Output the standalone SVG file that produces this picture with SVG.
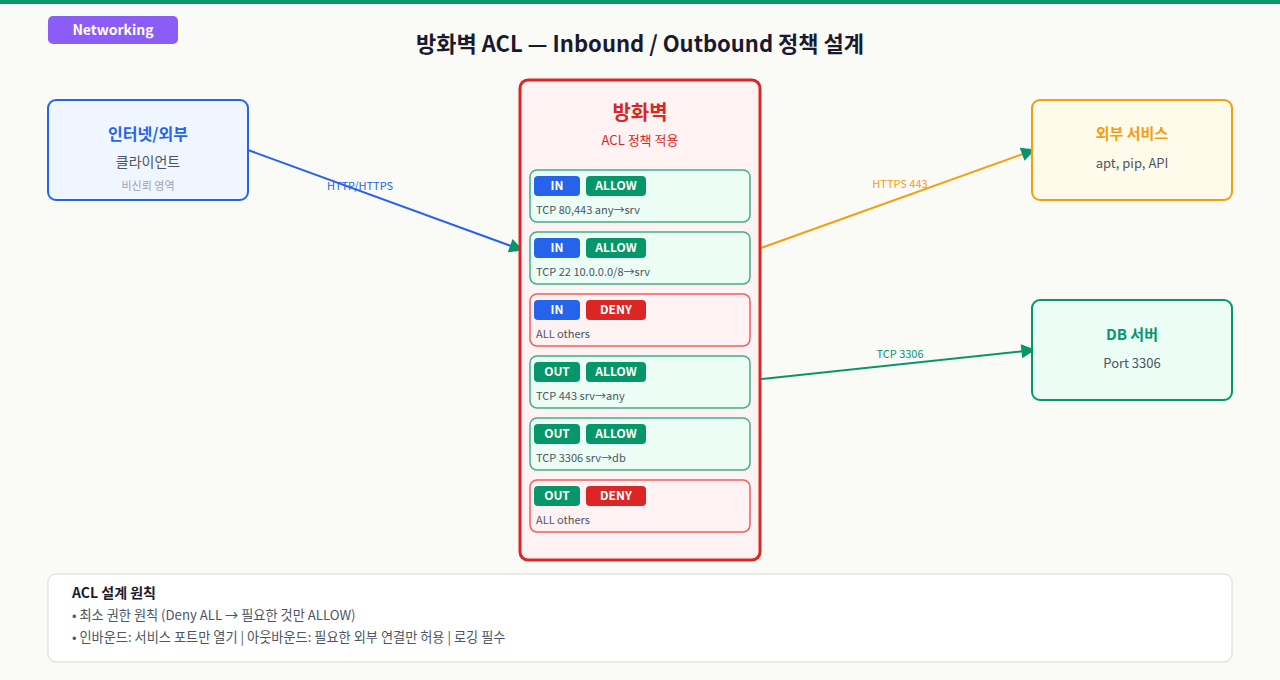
<svg xmlns="http://www.w3.org/2000/svg" width="1280" height="680" viewBox="0 0 1280 680">
<defs>
<style>
text{font-family:"Noto Sans CJK KR","Noto Sans",sans-serif}
.t{font-weight:700;text-anchor:middle}
.c{text-anchor:middle}
.pill{font-size:12px;font-weight:700;fill:#fff;text-anchor:middle}
.rtxt{font-size:11px;fill:#4b5563}
.allow{fill:#ecfdf5;stroke:#059669;stroke-opacity:0.75;stroke-width:1.5}
.deny{fill:#fef2f2;stroke:#ef4444;stroke-opacity:0.85;stroke-width:1.5}
.lbl{font-size:11px;text-anchor:middle}
</style>
<marker id="ah2" viewBox="0 0 10 10" refX="9" refY="5" markerWidth="20" markerHeight="14" markerUnits="userSpaceOnUse" orient="auto"><path d="M0,0 L10,5 L0,10 z" fill="#059669"/></marker>
</defs>
<rect width="1280" height="680" fill="#fafaf7"/>
<rect width="1280" height="4" fill="#059669"/>
<g id="badge">
<rect x="48" y="16" width="130" height="28" rx="5" fill="#8b5cf6"/>
<text x="113" y="35" class="c" font-size="14" font-weight="600" fill="#fff">Networking</text>
</g>
<text id="title" x="640" y="52" class="t" font-size="22" fill="#1a1a2e">방화벽 ACL — Inbound / Outbound 정책 설계</text>
<g id="connectors" fill="none" stroke-width="2">
<line x1="248" y1="150" x2="522" y2="250" stroke="#2563eb" marker-end="url(#ah2)"/>
<line x1="761" y1="248" x2="1034" y2="150" stroke="#f59e0b" marker-end="url(#ah2)"/>
<line x1="761" y1="379" x2="1034" y2="350" stroke="#059669" marker-end="url(#ah2)"/>
<text x="360" y="190" class="lbl" fill="#2563eb" stroke="none">HTTP/HTTPS</text>
<text x="900" y="188" class="lbl" fill="#f59e0b" stroke="none">HTTPS 443</text>
<text x="900" y="358" class="lbl" fill="#059669" stroke="none">TCP 3306</text>
</g>
<g id="internet">
<rect x="48" y="100" width="200" height="100" rx="8" fill="#eff6ff" stroke="#2563eb" stroke-width="2"/>
<text x="148" y="140" class="t" font-size="16" fill="#2563eb">인터넷/외부</text>
<text x="148" y="167" class="c" font-size="14" fill="#4b5563">클라이언트</text>
<text x="148" y="190" class="c" font-size="11" fill="#9ca3af">비신뢰 영역</text>
</g>
<g id="firewall">
<rect x="520" y="80" width="240" height="480" rx="8" fill="#fef2f2" stroke="#dc2626" stroke-width="3"/>
<text x="640" y="120" class="t" font-size="20" fill="#dc2626">방화벽</text>
<text x="640" y="145" class="c" font-size="13" fill="#dc2626">ACL 정책 적용</text>
</g>
<g id="rule1">
<rect x="530" y="170" width="220" height="52" rx="7" class="allow"/>
<rect x="534" y="176" width="46" height="20" rx="4" fill="#2563eb"/><text x="557" y="190" class="pill">IN</text>
<rect x="586" y="176" width="60" height="20" rx="4" fill="#059669"/><text x="616" y="190" class="pill">ALLOW</text>
<text x="536" y="214" class="rtxt">TCP 80,443 any→srv</text>
</g>
<g id="rule2">
<rect x="530" y="232" width="220" height="52" rx="7" class="allow"/>
<rect x="534" y="238" width="46" height="20" rx="4" fill="#2563eb"/><text x="557" y="252" class="pill">IN</text>
<rect x="586" y="238" width="60" height="20" rx="4" fill="#059669"/><text x="616" y="252" class="pill">ALLOW</text>
<text x="536" y="276" class="rtxt">TCP 22 10.0.0.0/8→srv</text>
</g>
<g id="rule3">
<rect x="530" y="294" width="220" height="52" rx="7" class="deny"/>
<rect x="534" y="300" width="46" height="20" rx="4" fill="#2563eb"/><text x="557" y="314" class="pill">IN</text>
<rect x="586" y="300" width="60" height="20" rx="4" fill="#dc2626"/><text x="616" y="314" class="pill">DENY</text>
<text x="536" y="338" class="rtxt">ALL others</text>
</g>
<g id="rule4">
<rect x="530" y="356" width="220" height="52" rx="7" class="allow"/>
<rect x="534" y="362" width="46" height="20" rx="4" fill="#059669"/><text x="557" y="376" class="pill">OUT</text>
<rect x="586" y="362" width="60" height="20" rx="4" fill="#059669"/><text x="616" y="376" class="pill">ALLOW</text>
<text x="536" y="400" class="rtxt">TCP 443 srv→any</text>
</g>
<g id="rule5">
<rect x="530" y="418" width="220" height="52" rx="7" class="allow"/>
<rect x="534" y="424" width="46" height="20" rx="4" fill="#059669"/><text x="557" y="438" class="pill">OUT</text>
<rect x="586" y="424" width="60" height="20" rx="4" fill="#059669"/><text x="616" y="438" class="pill">ALLOW</text>
<text x="536" y="462" class="rtxt">TCP 3306 srv→db</text>
</g>
<g id="rule6">
<rect x="530" y="480" width="220" height="52" rx="7" class="deny"/>
<rect x="534" y="486" width="46" height="20" rx="4" fill="#059669"/><text x="557" y="500" class="pill">OUT</text>
<rect x="586" y="486" width="60" height="20" rx="4" fill="#dc2626"/><text x="616" y="500" class="pill">DENY</text>
<text x="536" y="524" class="rtxt">ALL others</text>
</g>
<g id="external">
<rect x="1032" y="100" width="200" height="100" rx="8" fill="#fffbeb" stroke="#f59e0b" stroke-width="2"/>
<text x="1132" y="139" class="t" font-size="15" fill="#f59e0b">외부 서비스</text>
<text x="1132" y="168" class="c" font-size="13" fill="#4b5563">apt, pip, API</text>
</g>
<g id="db">
<rect x="1032" y="300" width="200" height="100" rx="8" fill="#ecfdf5" stroke="#059669" stroke-width="2"/>
<text x="1132" y="340" class="t" font-size="15" fill="#059669">DB 서버</text>
<text x="1132" y="368" class="c" font-size="13" fill="#4b5563">Port 3306</text>
</g>
<g id="notes">
<rect x="48" y="574" width="1184" height="88" rx="8" fill="#fff" stroke="#e5e5e0" stroke-width="1.5"/>
<text x="72" y="598" font-size="14" font-weight="700" fill="#1a1a2e">ACL 설계 원칙</text>
<text x="72" y="620" font-size="13.2" fill="#4b5563">• 최소 권한 원칙 (Deny ALL → 필요한 것만 ALLOW)</text>
<text x="72" y="642" font-size="13.2" fill="#4b5563">• 인바운드: 서비스 포트만 열기 | 아웃바운드: 필요한 외부 연결만 허용 | 로깅 필수</text>
</g>
</svg>
